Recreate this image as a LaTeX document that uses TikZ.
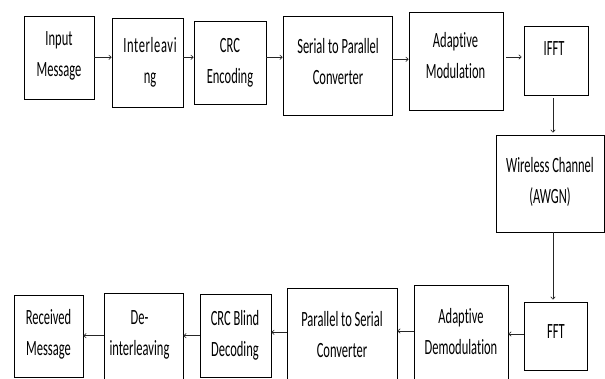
\documentclass[tikz,border=0pt]{standalone}
\usepackage{fontspec}
\setmainfont{Carlito}[Ligatures=NoCommon]
\usepackage{graphicx}
\usetikzlibrary{arrows.meta}
\newcommand{\ml}[1]{\scalebox{1}[1.74]{\begin{tabular}[t]{@{}c@{}}#1\end{tabular}}}
\begin{document}
\begin{tikzpicture}[x=1pt,y=-1pt,
  blk/.style={draw=black, line width=0.9pt, inner sep=0pt},
  lbl/.style={inner sep=0pt, anchor=base, text=black, font=\fontsize{12.5}{17.8}\selectfont},
  conn/.style={draw=black!85, line width=0.6pt, -{To[length=3pt,width=5pt]}}]
\useasboundingbox (0,0) rectangle (605,379);
\clip (0,0) rectangle (605,379);
% boxes
\node[blk, minimum width=70pt, minimum height=83pt] (inp) at (59,57.5) {};
\node[blk, minimum width=71pt, minimum height=89pt] (intl) at (147.5,62.5) {};
\node[blk, minimum width=72pt, minimum height=83pt] (crc) at (230,62.5) {};
\node[blk, minimum width=109pt, minimum height=99pt] (s2p) at (337.5,65.5) {};
\node[blk, minimum width=94pt, minimum height=98pt] (amod) at (456,61) {};
\node[blk, minimum width=64pt, minimum height=69pt] (ifft) at (556,60.5) {};
\node[blk, minimum width=108pt, minimum height=97pt] (wch) at (550,183.5) {};
\node[blk, minimum width=63pt, minimum height=68pt] (fft) at (555.5,336) {};
\node[blk, minimum width=94pt, minimum height=100pt] (ademod) at (461,335) {};
\node[blk, minimum width=110pt, minimum height=100pt] (p2s) at (342,338) {};
\node[blk, minimum width=71pt, minimum height=83.5pt] (crcb) at (235.5,335.75) {};
\node[blk, minimum width=79pt, minimum height=97pt] (deint) at (143.5,341.5) {};
\node[blk, minimum width=69pt, minimum height=82.5pt] (recv) at (48.5,336.25) {};
% texts
\node[lbl] (tinp) at (59,45.7) {\ml{Input\\Message}};
\node[lbl] (tintl) at (150,52.7) {\ml{{\addfontfeature{LetterSpace=5}Interleavi}\\ng}};
\node[lbl] (tcrc) at (230,52.3) {\ml{CRC\\Encoding}};
\node[lbl] (ts2p) at (338,53.3) {\ml{Serial to Parallel\\Converter}};
\node[lbl] (tamod) at (455.5,47.7) {\ml{Adaptive\\Modulation}};
\node[lbl] (tifft) at (554,55.7) {\ml{IFFT}};
\node[lbl] (twch) at (550,172.3) {\ml{Wireless Channel\\(AWGN)}};
\node[lbl] (tfft) at (556,338.3) {\ml{FFT}};
\node[lbl] (tademod) at (461,323.3) {\ml{Adaptive\\Demodulation}};
\node[lbl] (tp2s) at (342,326.7) {\ml{Parallel to Serial\\Converter}};
\node[lbl] (tcrcb) at (235,325.7) {\ml{CRC Blind\\Decoding}};
\node[lbl] (tdeint) at (139.5,324.3) {\ml{De-\\interleaving}};
\node[lbl] (trecv) at (48.5,324.3) {\ml{Received\\Message}};
% connectors
\draw[conn] (inp.east |- 0,57.3) -- (intl.west |- 0,57.3);
\draw[conn] (intl.east |- 0,57.3) -- (crc.west |- 0,57.3);
\draw[conn] (crc.east |- 0,57.3) -- (s2p.west |- 0,57.3);
\draw[conn] (s2p.east |- 0,59.3) -- (amod.west |- 0,59.3);
\draw[conn, shorten <=3pt, shorten >=2pt] (amod.east |- 0,57) -- (ifft.west |- 0,57);
\draw[conn, shorten <=3pt, shorten >=2pt] (ifft.south -| 553,0) -- (wch.north -| 553,0);
\draw[conn, shorten >=2pt] (wch.south -| 553,0) -- (fft.north -| 553,0);
\draw[conn] (fft.west |- 0,334) -- (ademod.east |- 0,334);
\draw[conn] (ademod.west |- 0,331) -- (p2s.east |- 0,331);
\draw[conn] (p2s.west |- 0,332.3) -- (crcb.east |- 0,332.3);
\draw[conn] (crcb.west |- 0,335.7) -- (deint.east |- 0,335.7);
\draw[conn] (deint.west |- 0,335.7) -- (recv.east |- 0,335.7);
\end{tikzpicture}
\end{document}
